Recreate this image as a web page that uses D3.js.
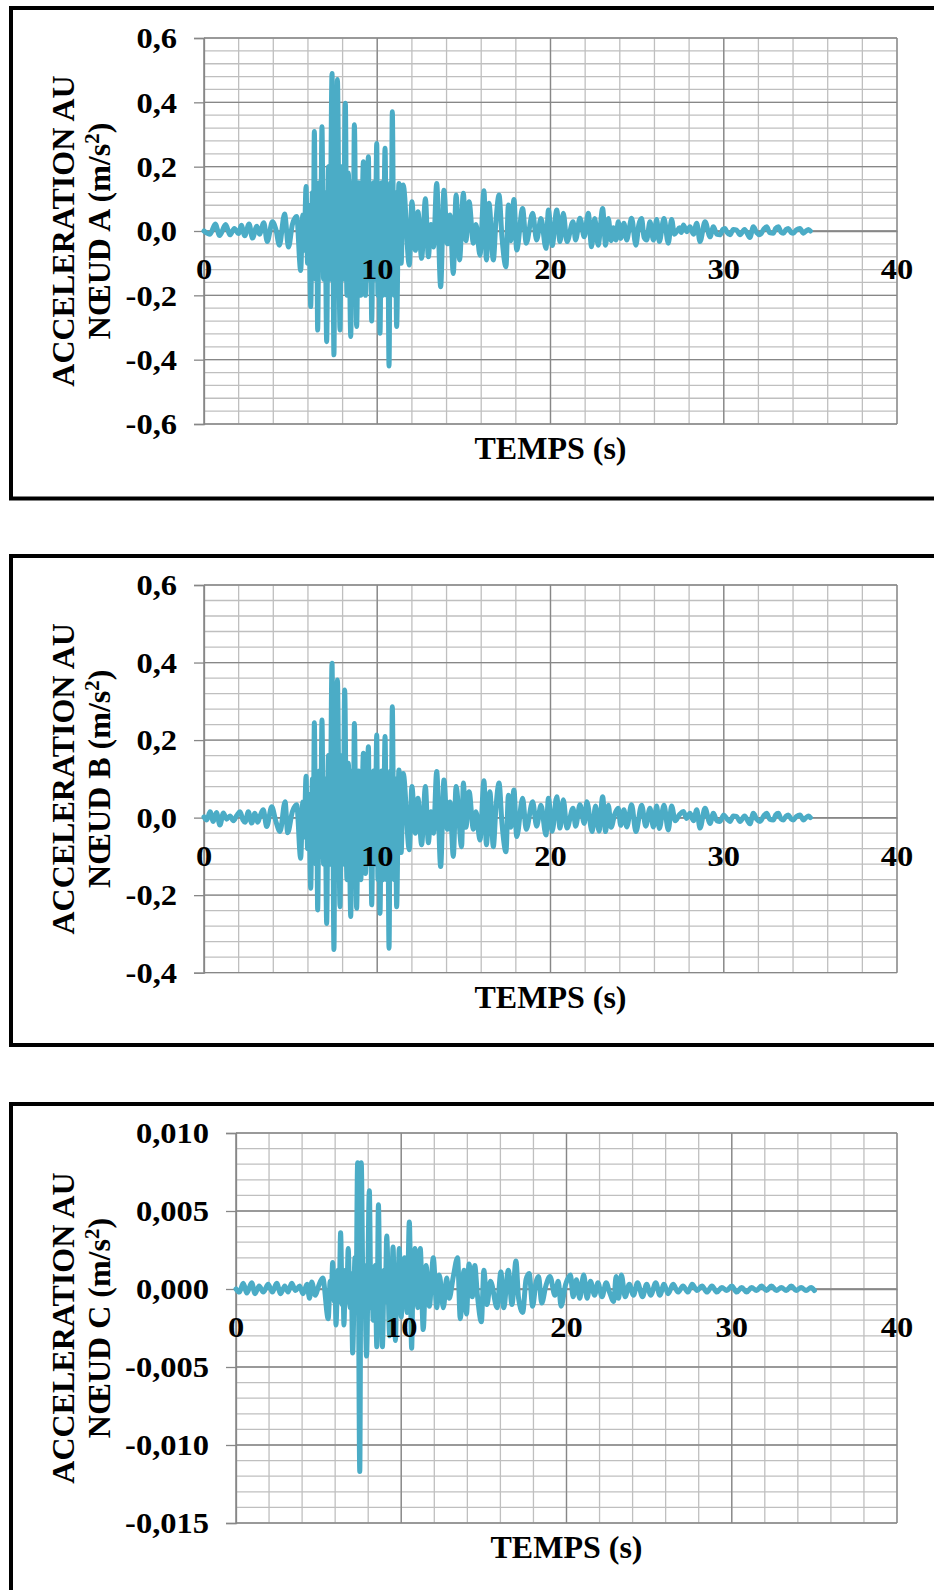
<!DOCTYPE html>
<html>
<head>
<meta charset="utf-8">
<script src="https://cdn.jsdelivr.net/npm/d3@7"></script>
<style>
  body { margin: 0; background: #fff; }
  svg text { font-family: "Liberation Serif", "Times New Roman", serif; font-weight: bold; fill: #000; }
</style>
</head>
<body>
<svg id="fig" width="934" height="1590"></svg>
<script>
// ---- time axis ----
const timeTicks = [0, 10, 20, 30, 40];
const timeTickLabels = ["0", "10", "20", "30", "40"];

// ---- node A : time (s) / acceleration (m/s²) ----
const timeA = [
  0, 0.35, 0.65, 0.9, 1.25, 1.5, 1.75, 2.0, 2.15, 2.35, 2.6, 2.8, 3.05, 3.2, 3.45, 3.65, 3.95, 4.15, 4.35, 4.65, 4.88, 5.1, 5.35,
  5.58, 5.7, 5.78, 5.89, 5.98, 6.05, 6.16, 6.26, 6.31, 6.37, 6.45,
  6.5, 6.56, 6.65, 6.72, 6.81, 6.9, 6.98, 7.08, 7.18, 7.26, 7.39,
  7.5, 7.57, 7.63, 7.7, 7.85, 7.95, 8.03, 8.16, 8.25, 8.33, 8.47,
  8.56, 8.61, 8.68, 8.81, 8.93, 9.05, 9.2, 9.32, 9.49, 9.56, 9.61,
  9.68, 9.78, 9.87, 9.97, 10.04, 10.09, 10.16, 10.25, 10.33, 10.45, 10.55,
  10.6, 10.68, 10.76, 10.8, 10.87, 10.97, 11.03, 11.12, 11.25, 11.38, 11.5,
  11.85, 12.0, 12.2, 12.35, 12.56, 12.78, 12.95,
  13.1, 13.25, 13.43, 13.66, 13.85, 14.05, 14.2, 14.39, 14.55, 14.75, 14.97, 15.12, 15.3, 15.55, 15.7, 15.93, 16.16, 16.3, 16.45, 16.7, 16.85, 17.03, 17.2, 17.43, 17.57, 17.7, 17.89, 18.05, 18.39, 18.6, 18.97, 19.2, 19.45, 19.74, 19.88, 20.1, 20.36, 20.55, 20.74, 20.95, 21.3, 21.45, 21.7, 21.95, 22.18, 22.37, 22.55, 22.75, 23.01, 23.18,
  23.34, 23.5, 23.63, 23.78, 23.91, 24.05, 24.24, 24.4, 24.55, 24.68, 24.93, 25.1, 25.26, 25.4, 25.55, 25.74, 25.94, 26.13, 26.28, 26.55, 26.8, 26.99, 27.15, 27.28, 27.45, 27.55, 27.67, 27.86, 28.05, 28.25, 28.44, 28.63, 28.92, 29.21, 29.4, 29.6, 29.78, 29.95, 30.07, 30.2, 30.36, 30.55, 30.74, 30.94, 31.2, 31.51, 31.71, 31.9, 32.09, 32.3, 32.48, 32.65, 32.86, 33.0, 33.15, 33.3, 33.44, 33.6, 33.73, 33.9, 34.01, 34.2, 34.4, 34.6, 34.75, 34.89, 35.0];
const accelA = [
  0, -0.01, 0.022, -0.014, 0.02, -0.012, 0.008, -0.008, 0.018, -0.015, 0.022, -0.022, 0.015, -0.01, 0.026, -0.033, 0.029, 0.005, -0.044, 0.053, -0.05, 0.02, 0.045,
  -0.123, 0.05, -0.06, 0.138, -0.1, 0.08, -0.235, 0.12, -0.05, 0.309, -0.15,
  0.1, -0.308, 0.15, -0.12, 0.324, -0.15, 0.12, -0.344, 0.2, -0.15, 0.49,
  -0.385, 0.15, -0.1, 0.471, -0.308, 0.2, -0.15, 0.397, -0.2, 0.18, -0.328,
  0.15, -0.1, 0.33, -0.297, 0.15, -0.2, 0.215, -0.2, 0.231, -0.15, 0.1,
  -0.28, 0.15, -0.15, 0.272, -0.2, 0.1, -0.318, 0.15, -0.2, 0.257, -0.2,
  0.1, -0.42, 0.15, -0.1, 0.371, -0.2, 0.12, -0.297, 0.148, -0.1, 0.143,
  -0.106, 0.091, -0.06, 0.06, -0.085, 0.10, -0.08,
  0.02, -0.05, 0.148, -0.173, 0.127, -0.04, 0.05, -0.132, 0.112, -0.09, 0.117, -0.03, 0.091, -0.038, 0.02, -0.075, 0.125, -0.09, 0.086, -0.09, 0.03, 0.112, -0.02, -0.111, 0.081, -0.03, 0.098, -0.059, 0.07, -0.038, 0.055, -0.028, 0.039, -0.054, 0.065, -0.045, 0.065, -0.033, 0.055, -0.033, 0.029, -0.028, 0.04, -0.018, 0.055, -0.049, 0.039, -0.044, 0.07, -0.044,
  0.039, -0.03, 0.01, -0.028, 0.029, -0.023, 0.024, -0.028, 0.01, 0.04, -0.044, 0.02, 0.039, -0.02, -0.028, 0.029, -0.028, 0.036, -0.033, 0.039, -0.038, 0.036, -0.01, -0.002, 0.01, -0.005, 0.019, -0.002, 0.013, -0.01, 0.024, -0.033, 0.029, -0.018, 0.013, -0.01, -0.012, 0.005, 0.008, -0.005, -0.012, 0.005, 0.003, -0.012, 0.005, -0.02, 0.013, -0.005, -0.012, 0.005, 0.013, -0.005, -0.007, 0.008, 0.013, -0.003, -0.007, 0.005, 0.008, -0.005, -0.007, 0.004, 0.008, -0.007, 0.0, 0.005, 0.0];

// ---- node B ----
const timeB = [
  0, 0.16, 0.35, 0.54, 0.72, 0.92, 1.12, 1.3, 1.5, 1.7, 1.9, 2.08, 2.25, 2.37, 2.56, 2.75, 2.94, 3.1, 3.25, 3.42, 3.62, 3.91, 4.15, 4.39, 4.68, 4.83, 5.1, 5.35,
  5.58, 5.7, 5.78, 5.89, 5.98, 6.05, 6.16, 6.26, 6.31, 6.37, 6.45,
  6.5, 6.56, 6.65, 6.72, 6.81, 6.9, 6.98, 7.08, 7.18, 7.26, 7.39,
  7.5, 7.57, 7.63, 7.7, 7.85, 7.95, 8.03, 8.12, 8.25, 8.33, 8.47,
  8.56, 8.61, 8.68, 8.81, 8.93, 9.05, 9.2, 9.32, 9.49, 9.56, 9.61,
  9.68, 9.78, 9.87, 9.97, 10.04, 10.09, 10.16, 10.25, 10.33, 10.45, 10.55,
  10.6, 10.68, 10.76, 10.8, 10.87, 10.97, 11.03, 11.12, 11.25, 11.38, 11.5,
  11.85, 12.0, 12.2, 12.35, 12.56, 12.78, 12.95,
  13.1, 13.25, 13.43, 13.66, 13.85, 14.05, 14.2, 14.39, 14.55, 14.87, 14.97, 15.12, 15.3, 15.55, 15.7, 15.93, 16.16, 16.3, 16.5, 16.7, 16.85, 17.03, 17.2, 17.43, 17.57, 17.7, 17.89, 18.05, 18.39, 18.6, 18.97, 19.2, 19.45, 19.74, 19.88, 20.1, 20.36, 20.55, 20.74, 20.95, 21.3, 21.45, 21.7, 21.95, 22.1, 22.4, 22.6, 22.8, 23.01, 23.18,
  23.34, 23.5, 23.7, 23.91, 24.05, 24.24, 24.4, 24.68, 24.93, 25.26, 25.5, 25.74, 25.94, 26.13, 26.28, 26.55, 26.8, 26.99, 27.2, 27.45, 27.67, 27.86, 28.05, 28.25, 28.44, 28.63, 28.92, 29.21, 29.4, 29.6, 29.78, 30.0, 30.2, 30.36, 30.55, 30.74, 30.94, 31.2, 31.51, 31.71, 31.9, 32.09, 32.3, 32.48, 32.65, 32.86, 33.0, 33.15, 33.3, 33.44, 33.6, 33.73, 33.9, 34.01, 34.2, 34.4, 34.6, 34.75, 34.89, 35.0];
const accelB = [
  0.002, -0.006, 0.015, -0.01, 0.013, -0.019, 0.012, -0.004, 0.004, -0.008, 0.006, 0.015, -0.006, -0.012, 0.015, -0.014, 0.011, -0.012, 0.006, 0.02, -0.023, 0.028, -0.01, -0.036, 0.041, -0.039, 0.015, 0.033,
  -0.105, 0.04, -0.05, 0.107, -0.08, 0.06, -0.182, 0.1, -0.04, 0.245, -0.12,
  0.08, -0.238, 0.12, -0.1, 0.252, -0.12, 0.1, -0.273, 0.16, -0.12, 0.398,
  -0.34, 0.12, -0.08, 0.355, -0.23, 0.16, -0.12, 0.329, -0.16, 0.14, -0.255,
  0.12, -0.08, 0.243, -0.234, 0.12, -0.16, 0.166, -0.144, 0.183, -0.12, 0.08,
  -0.225, 0.12, -0.12, 0.213, -0.16, 0.08, -0.247, 0.12, -0.16, 0.209, -0.16,
  0.08, -0.337, 0.12, -0.08, 0.286, -0.16, 0.1, -0.23, 0.123, -0.09, 0.114,
  -0.083, 0.08, -0.04, 0.05, -0.07, 0.08, -0.065,
  0.015, -0.04, 0.119, -0.126, 0.097, -0.03, 0.04, -0.1, 0.08, -0.075, 0.089, -0.025, 0.067, -0.03, 0.015, -0.058, 0.095, -0.07, 0.067, -0.075, 0.025, 0.089, -0.015, -0.088, 0.058, -0.025, 0.071, -0.049, 0.05, -0.03, 0.041, -0.022, 0.032, -0.045, 0.05, -0.035, 0.054, -0.027, 0.046, -0.027, 0.024, -0.022, 0.033, -0.015, 0.041, -0.036, 0.03, -0.035, 0.054, -0.036,
  0.032, -0.025, 0.008, 0.024, -0.02, 0.02, -0.024, 0.033, -0.036, 0.032, -0.022, 0.024, -0.024, 0.03, -0.028, 0.032, -0.032, 0.03, -0.008, 0.008, 0.016, -0.002, 0.011, -0.008, 0.02, -0.027, 0.024, -0.015, 0.011, -0.008, -0.01, 0.007, -0.004, -0.01, 0.004, 0.003, -0.01, 0.004, -0.016, 0.011, -0.004, -0.01, 0.004, 0.011, -0.004, -0.006, 0.007, 0.011, -0.003, -0.006, 0.004, 0.007, -0.004, -0.006, 0.003, 0.007, -0.006, 0.0, 0.004, 0.0];

// ---- node C ----
const timeC = [
  0, 0.2, 0.44, 0.65, 0.95, 1.15, 1.4, 1.65, 1.95, 2.2, 2.46, 2.7, 2.95, 3.15, 3.37, 3.6, 3.85, 4.05, 4.3, 4.45, 4.58, 4.8, 5.0, 5.25,
  5.58, 5.7, 5.76, 5.85, 5.95, 5.99, 6.05, 6.17, 6.24, 6.33,
  6.43, 6.47, 6.53, 6.63, 6.7, 6.79, 6.9, 6.97, 7.06, 7.2,
  7.26, 7.36, 7.49, 7.58, 7.7, 7.76, 7.9, 8.07, 8.17, 8.22,
  8.3, 8.42, 8.52, 8.62, 8.72, 8.77, 8.86, 8.97, 9.03, 9.12,
  9.3, 9.38, 9.42, 9.5, 9.65, 9.74, 9.78, 9.88, 10.0, 10.08,
  10.13, 10.2, 10.35, 10.49, 10.63, 10.72, 10.76, 10.83, 11.0, 11.15,
  11.33, 11.5, 11.7, 11.94,
  12.15, 12.3, 12.55, 12.75, 12.9, 13.15, 13.41, 13.57, 13.8, 13.95, 14.1, 14.3, 14.45, 14.6, 14.85, 15.0, 15.19, 15.4, 15.8, 16.03, 16.2, 16.48, 16.7, 16.94, 17.1, 17.35, 17.55, 17.74, 17.95, 18.15, 18.31, 18.5, 18.75, 19.0, 19.3, 19.5, 19.67, 19.95, 20.24, 20.4, 20.6, 20.8, 21.04, 21.25, 21.45, 21.7, 21.9, 22.15, 22.4, 22.6, 22.86, 23.0, 23.15, 23.32, 23.55, 23.8, 24.05, 24.3, 24.6, 24.85, 25.1, 25.4, 25.65, 25.9, 26.15, 26.45, 26.75, 27.05, 27.35, 27.6, 27.9, 28.2, 28.5, 28.8, 29.1, 29.4, 29.7, 30.0, 30.3, 30.6, 30.9, 31.2, 31.5, 31.8, 32.1, 32.4, 32.7, 33.0, 33.3, 33.6, 33.9, 34.2, 34.5, 34.8, 35.0];
const accelC = [
  0, -0.0002, 0.00037, -0.00026, 0.0004, -0.0003, 0.0002, -0.0002, 0.0003, -0.0002, 0.00037, -0.0003, 0.0002, -0.0002, 0.00037, -0.0001, 0.0002, -0.0003, 0.0003, -0.0006, 0.00045, -0.0004, 0.0002, 0.0007,
  -0.0019, 0.0005, -0.0006, 0.0017, -0.0008, 0.0004, -0.0023, 0.0012, -0.0008, 0.0036,
  -0.001, 0.0008, -0.0023, 0.0012, -0.0008, 0.0026, -0.0012, 0.001, -0.0041, 0.002,
  -0.001, 0.0081, -0.0117, 0.0081, -0.001, 0.0015, -0.0043, 0.0063, -0.0012, 0.001,
  -0.002, 0.0015, -0.0037, 0.0054, -0.0012, 0.0008, -0.0037, 0.0012, -0.0008, 0.0034,
  -0.003, 0.001, -0.0005, 0.0027, -0.0033, 0.001, -0.0005, 0.0026, -0.0018, 0.0008,
  -0.0006, 0.002, -0.0015, 0.0043, -0.0038, 0.0008, -0.0005, 0.0026, -0.0012, 0.0026,
  -0.0026, 0.0015, -0.0011, 0.002,
  -0.0012, 0.0009, -0.0012, 0.0007, -0.0006, 0.0008, 0.002, -0.0019, 0.0012, -0.0016, 0.0016, -0.0005, 0.0015, -0.0003, -0.0021, 0.0012, -0.001, 0.0005, -0.0012, 0.0011, -0.0012, 0.0012, -0.001, 0.0018, -0.0006, -0.0015, 0.0006, 0.001, -0.0011, 0.0004, 0.0008, -0.0009, 0.0002, 0.0008, -0.0004, 0.0005, -0.0011, 0.0003, 0.0009, -0.0005, 0.0006, -0.0006, 0.0009, -0.0006, 0.0005, -0.0004, 0.0004, -0.0005, 0.0004, -0.0002, -0.0008, 0.0008, -0.0006, 0.0009, -0.0005, 0.0003, -0.0004, 0.0004, -0.0005, 0.0003, -0.0004, 0.0004, -0.0004, 0.0003, -0.0003, 0.0003, -0.0002, 0.0002, -0.0002, 0.0003, -0.0001, 0.0002, -0.0002, 0.0002, -0.0002, 0.0001, -0.0001, 0.0002, -0.0002, 0.0001, -0.0002, 0.0001, -0.0001, 0.0002, -0.0001, 0.0002, -0.0001, 0.0001, -0.0001, 0.0002, -0.0001, 0.0001, -0.0001, 0.0001, -0.0001];

// ---- value-axis ticks ----
const accelTicksA = [-0.6, -0.4, -0.2, 0.0, 0.2, 0.4, 0.6];
const accelLabelsA = ["-0,6", "-0,4", "-0,2", "0,0", "0,2", "0,4", "0,6"];
const accelTicksB = [-0.4, -0.2, 0.0, 0.2, 0.4, 0.6];
const accelLabelsB = ["-0,4", "-0,2", "0,0", "0,2", "0,4", "0,6"];
const accelTicksC = [-0.015, -0.010, -0.005, 0.000, 0.005, 0.010];
const accelLabelsC = ["-0,015", "-0,010", "-0,005", "0,000", "0,005", "0,010"];

const titleLine1 = "ACCELERATION AU";
const xTitle = "TEMPS (s)";

// ---- panel layout ----
const panels = [
  { node: "A", t: timeA, v: accelA, ticks: accelTicksA, labels: accelLabelsA, minorStep: 0.04,
    frameTop: 8, frameBottom: 498.5, left: 204, right: 897, top: 38, bottom: 424 },
  { node: "B", t: timeB, v: accelB, ticks: accelTicksB, labels: accelLabelsB, minorStep: 0.04,
    frameTop: 556, frameBottom: 1045, left: 204, right: 897, top: 585, bottom: 972.7 },
  { node: "C", t: timeC, v: accelC, ticks: accelTicksC, labels: accelLabelsC, minorStep: 0.001,
    frameTop: 1104, frameBottom: 1700, left: 236, right: 897, top: 1133, bottom: 1523 }
];

const svg = d3.select("#fig");
svg.append("rect").attr("width", 934).attr("height", 1590).attr("fill", "#fff");

const MAJOR = "#878787", MINOR = "#bfbfbf", LINE = "#4bacc6";
const LABEL_STRETCH = 1.14;   // tick labels are set slightly wide

panels.forEach(p => {
  const g = svg.append("g");

  // outer frame
  g.append("rect")
    .attr("x", 11).attr("y", p.frameTop)
    .attr("width", 960).attr("height", p.frameBottom - p.frameTop)
    .attr("fill", "none").attr("stroke", "#000").attr("stroke-width", 4);

  const x = d3.scaleLinear().domain([0, 40]).range([p.left, p.right]);
  const y = d3.scaleLinear().domain([p.ticks[0], p.ticks[p.ticks.length - 1]]).range([p.bottom, p.top]);
  const [y0, y1] = y.domain();
  const nMinorY = Math.round((y1 - y0) / p.minorStep);
  const minorY = d3.range(nMinorY + 1).map(i => y0 + i * p.minorStep);
  const minorX = d3.range(0, 41, 2);

  // minor gridlines
  const grid = g.append("g");
  grid.selectAll(".mx").data(minorX).join("line")
    .attr("x1", d => x(d)).attr("x2", d => x(d)).attr("y1", p.top).attr("y2", p.bottom)
    .attr("stroke", MINOR).attr("stroke-width", 1.3);
  grid.selectAll(".my").data(minorY).join("line")
    .attr("x1", p.left).attr("x2", p.right).attr("y1", d => y(d)).attr("y2", d => y(d))
    .attr("stroke", MINOR).attr("stroke-width", 1.3);
  // major gridlines
  grid.selectAll(".Mx").data(timeTicks).join("line")
    .attr("x1", d => x(d)).attr("x2", d => x(d)).attr("y1", p.top).attr("y2", p.bottom)
    .attr("stroke", MAJOR).attr("stroke-width", 1.3);
  grid.selectAll(".My").data(p.ticks).join("line")
    .attr("x1", p.left).attr("x2", p.right).attr("y1", d => y(d)).attr("y2", d => y(d))
    .attr("stroke", MAJOR).attr("stroke-width", 1.3);

  // value axis (ticks outside, labels)
  const yAxis = g.append("g").attr("transform", `translate(${p.left},0)`)
    .call(d3.axisLeft(y).tickValues(p.ticks).tickFormat((d, i) => p.labels[i]).tickSize(10).tickPadding(17));
  yAxis.select(".domain").attr("stroke", MAJOR).attr("stroke-width", 1.3);
  yAxis.selectAll(".tick line").attr("stroke", MAJOR).attr("stroke-width", 1.3);
  yAxis.selectAll(".tick text")
    .attr("font-size", 28.5).attr("font-family", null).attr("dy", "0.34em")
    .attr("x", -27 / LABEL_STRETCH).attr("transform", `scale(${LABEL_STRETCH},1)`);

  // time axis crossing at zero
  const zeroY = y(0);
  const xAxis = g.append("g").attr("transform", `translate(0,${zeroY})`)
    .call(d3.axisBottom(x).tickValues(timeTicks).tickFormat((d, i) => timeTickLabels[i]).tickSize(0));
  xAxis.select(".domain").attr("stroke", MAJOR).attr("stroke-width", 1.3);
  xAxis.selectAll(".tick text").remove();

  // acceleration record
  const line = d3.line().x((d, i) => x(p.t[i])).y(d => y(d)).curve(d3.curveMonotoneX);
  g.append("path").datum(p.v)
    .attr("d", line)
    .attr("fill", "none").attr("stroke", LINE).attr("stroke-width", 5)
    .attr("stroke-linejoin", "round").attr("stroke-linecap", "round");

  // time tick labels drawn above the record
  g.append("g").selectAll("text").data(timeTicks).join("text")
    .attr("transform", d => `translate(${x(d)},${zeroY + 48}) scale(1.1,1)`)
    .attr("text-anchor", "middle").attr("font-size", 29.5)
    .text((d, i) => timeTickLabels[i]);

  // axis titles
  g.append("text")
    .attr("x", (p.left + p.right) / 2).attr("y", p.bottom + 35)
    .attr("text-anchor", "middle").attr("font-size", 32)
    .text(xTitle);

  const cy = (p.top + p.bottom) / 2;
  const yTitle = g.append("text")
    .attr("transform", `translate(74,${cy}) rotate(-90)`)
    .attr("text-anchor", "middle").attr("font-size", 32);
  yTitle.append("tspan").attr("x", 0).attr("y", 0).text(titleLine1);
  const l2 = yTitle.append("tspan").attr("x", 0).attr("y", 36);
  l2.append("tspan").text(`NŒUD ${p.node} (m/s`);
  l2.append("tspan").attr("dy", -11).attr("font-size", 21).text("2");
  l2.append("tspan").attr("dy", 11).text(")");
});
</script>
</body>
</html>
